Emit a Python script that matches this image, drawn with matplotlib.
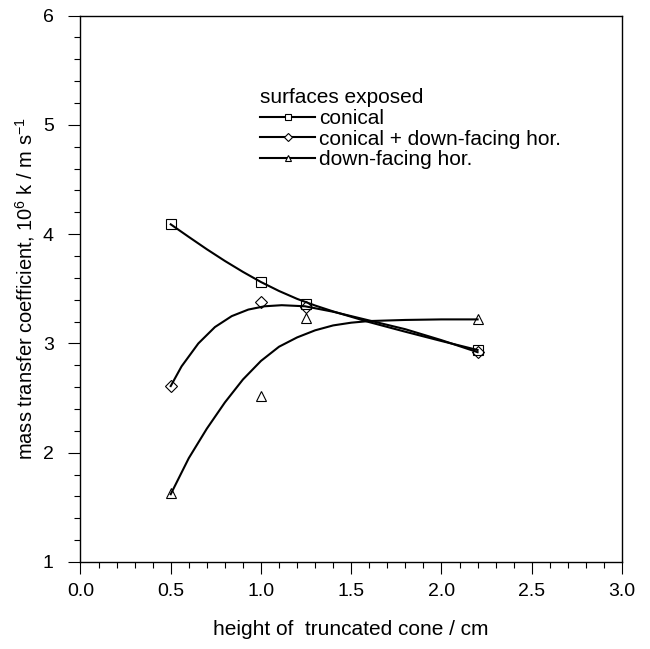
import matplotlib
matplotlib.use('Agg')
import matplotlib.pyplot as plt
from matplotlib.lines import Line2D
from matplotlib.ticker import MultipleLocator

plt.rcParams['font.family'] = ['Liberation Sans', 'DejaVu Sans']
plt.rcParams['mathtext.default'] = 'regular'

# measured points: height of truncated cone (cm) vs 10^6 k (m/s)
height = [0.5, 1.0, 1.25, 2.2]
k_conical = [4.09, 3.56, 3.36, 2.94]
k_both = [2.61, 3.38, 3.33, 2.92]
k_down = [1.63, 2.52, 3.23, 3.22]

# smoothed fit curves through each series
fit_x_conical = [0.5, 0.6, 0.7, 0.8, 0.9, 1.0, 1.1, 1.2, 1.3, 1.4, 1.6, 1.8, 2.0, 2.2]
fit_y_conical = [4.09, 3.975, 3.862, 3.755, 3.655, 3.562, 3.48, 3.408, 3.347, 3.293, 3.195, 3.107, 3.022, 2.94]

fit_x_both = [0.5, 0.56, 0.653, 0.745, 0.838, 0.93, 1.02, 1.115, 1.244, 1.4, 1.6, 1.8, 2.0, 2.2]
fit_y_both = [2.61, 2.79, 3.00, 3.15, 3.25, 3.31, 3.34, 3.35, 3.34, 3.29, 3.21, 3.13, 3.03, 2.92]

fit_x_down = [0.5, 0.6, 0.7, 0.8, 0.9, 1.0, 1.1, 1.2, 1.3, 1.4, 1.5, 1.6, 1.8, 2.0, 2.2]
fit_y_down = [1.62, 1.95, 2.22, 2.46, 2.67, 2.84, 2.97, 3.055, 3.12, 3.165, 3.19, 3.205, 3.215, 3.22, 3.22]

labels = ['conical', 'conical + down-facing hor.', 'down-facing hor.']
markers = ['s', 'D', '^']
msizes = [6.5, 6, 7]

fig = plt.figure(figsize=(6.5, 6.49), dpi=100)
ax = fig.add_axes([0.1238, 0.1341, 0.8331, 0.8418])

fits = [(fit_x_conical, fit_y_conical), (fit_x_both, fit_y_both), (fit_x_down, fit_y_down)]
points = [k_conical, k_both, k_down]
for (fx, fy), pts, m, ms in zip(fits, points, markers, msizes):
    ax.plot(fx, fy, color='black', lw=1.5)
    ax.plot(height, pts, ls='none', marker=m, ms=ms, mfc='none', mec='black', mew=0.8)

ax.set_xlim(0, 3)
ax.set_ylim(1, 6)
ax.xaxis.set_major_locator(MultipleLocator(0.5))
ax.xaxis.set_minor_locator(MultipleLocator(0.1))
ax.yaxis.set_major_locator(MultipleLocator(1))
ax.yaxis.set_minor_locator(MultipleLocator(0.2))
ax.xaxis.set_major_formatter(plt.FormatStrFormatter('%.1f'))
ax.tick_params(which='both', direction='out', top=False, right=False, width=0.8, labelsize=14)
ax.tick_params(which='major', length=8.3)
ax.tick_params(which='minor', length=4.3)
ax.tick_params(axis='x', pad=7)
ax.tick_params(axis='y', pad=11)
for sp in ax.spines.values():
    sp.set_linewidth(1.0)

ax.set_xlabel('height of  truncated cone / cm', fontsize=15, labelpad=14)
ax.set_ylabel('mass transfer coefficient, 10$^6$ k / m s$^{-1}$', fontsize=14.5, labelpad=4)

handles = [Line2D([], [], color='black', lw=1.5, marker=m, ms=4.5, mfc='white', mec='black', mew=0.8)
           for m in markers]
ax.legend(handles, labels, title='surfaces exposed', loc='upper left',
          bbox_to_anchor=(0.332, 0.867), frameon=False, alignment='left',
          fontsize=15, title_fontsize=15, handlelength=2.64, handletextpad=0.2,
          labelspacing=0.08, borderpad=0, borderaxespad=0)

fig.savefig('out.png', dpi=100)
